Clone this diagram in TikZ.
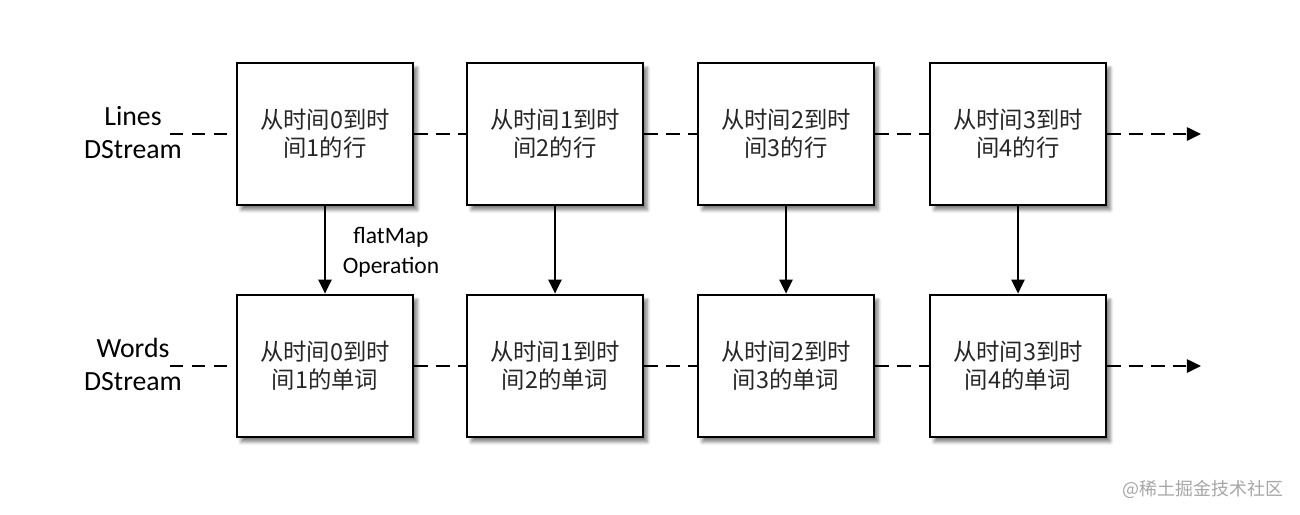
\documentclass[tikz,border=0pt]{standalone}
\usepackage{fontspec}
\setmainfont{Carlito}
\newfontfamily\cjk{Noto Sans CJK SC}
\usepackage{xcolor}
\definecolor{boxtext}{HTML}{262626}
\definecolor{markgray}{HTML}{A6A6A6}
\usepackage{tikz}
\usetikzlibrary{arrows.meta, shadows.blur}

\begin{document}
\begin{tikzpicture}[x=0.02cm, y=-0.02cm,
  frame/.style={draw, line width=1.6pt, fill=white, minimum width=3.52cm, minimum height=2.84cm,
    align=center, text=boxtext, font=\cjk\fontsize{13.3}{16}\selectfont,
    blur shadow={shadow xshift=2.4pt, shadow yshift=-2.8pt, shadow blur steps=6, shadow opacity=50}},
  link/.style={line width=1.2pt, dash pattern=on 7.5pt off 5pt},
  flow/.style={line width=1.1pt, -{Triangle[length=8pt, width=7.5pt]}},
  tag/.style={align=center, font=\fontsize{15.8}{18.8}\selectfont}]
  \useasboundingbox (0,0) rectangle (1300,514);

  % Lines DStream
  \node[frame] (l0) at (325,134) {从时间0到时\\间1的行};
  \node[frame] (l1) at (555,134) {从时间1到时\\间2的行};
  \node[frame] (l2) at (786,134) {从时间2到时\\间3的行};
  \node[frame] (l3) at (1018,134) {从时间3到时\\间4的行};

  % Words DStream
  \node[frame] (w0) at (325,366) {从时间0到时\\间1的单词};
  \node[frame] (w1) at (555,366) {从时间1到时\\间2的单词};
  \node[frame] (w2) at (786,366) {从时间2到时\\间3的单词};
  \node[frame] (w3) at (1018,366) {从时间3到时\\间4的单词};

  \node[tag] (lines) at (133,133) {Lines\\DStream};
  \node[tag] (words) at (133,364) {Words\\DStream};
  \node[align=center, font=\fontsize{13.4}{17}\selectfont] (op) at (391,252) {flatMap\\Operation};

  \coordinate (ls) at (170,134);
  \coordinate (le) at (1201,134);
  \coordinate (ws) at (170,366);
  \coordinate (we) at (1201,366);

  \draw[link] (ls) -- (l0.west);
  \draw[link] (l0.east) -- (l1.west);
  \draw[link] (l1.east) -- (l2.west);
  \draw[link] (l2.east) -- (l3.west);
  \draw[link, -{Triangle[length=8pt, width=7.5pt]}] (l3.east) -- (le);

  \draw[link] (ws) -- (w0.west);
  \draw[link] (w0.east) -- (w1.west);
  \draw[link] (w1.east) -- (w2.west);
  \draw[link] (w2.east) -- (w3.west);
  \draw[link, -{Triangle[length=8pt, width=7.5pt]}] (w3.east) -- (we);

  \draw[flow] (l0) -- (w0);
  \draw[flow] (l1) -- (w1);
  \draw[flow] (l2) -- (w2);
  \draw[flow] (l3) -- (w3);

  \node[text=markgray, font=\cjk\fontsize{10.2}{12}\selectfont] (mark) at (1203,489) {@稀土掘金技术社区};
\end{tikzpicture}
\end{document}
